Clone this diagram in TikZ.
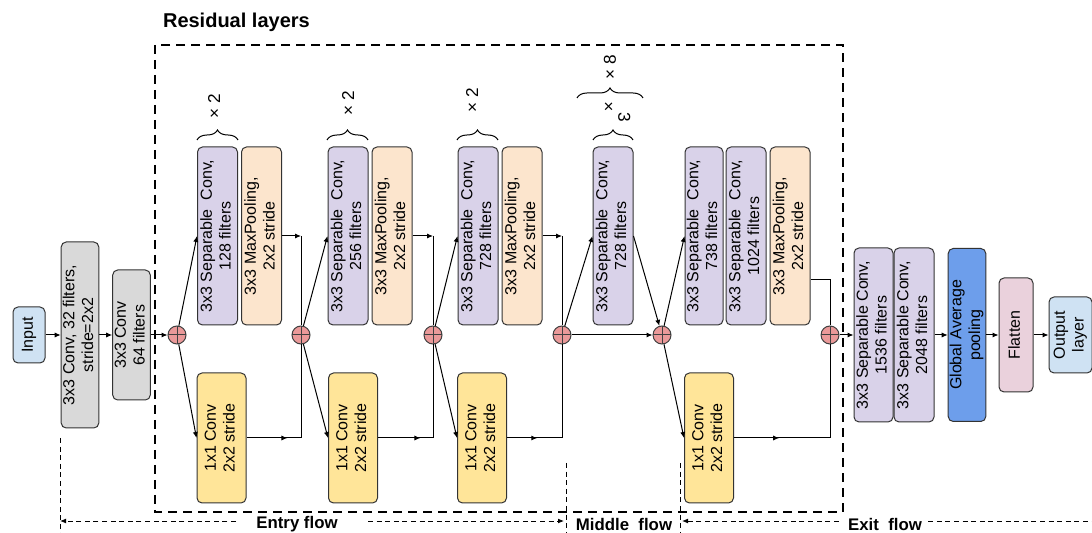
\documentclass[tikz,border=0pt]{standalone}
\usepackage{fontspec}
\setmainfont{Liberation Sans}
\usepackage{xcolor}
\usetikzlibrary{positioning,arrows.meta,calc,decorations.pathreplacing,decorations.markings}
\definecolor{inputblue}{HTML}{CFE2F3}
\definecolor{stemgray}{HTML}{D9D9D9}
\definecolor{sepviolet}{HTML}{D9D2E9}
\definecolor{poolpeach}{HTML}{FCE5CD}
\definecolor{skipyellow}{HTML}{FFE599}
\definecolor{addred}{HTML}{EA9999}
\definecolor{gapblue}{HTML}{6D9EEB}
\definecolor{flatpink}{HTML}{EAD1DC}

\newcommand{\vlabel}[1]{\rotatebox{90}{\begin{tabular}{@{}c@{}}#1\end{tabular}}}

\begin{document}
\begin{tikzpicture}[
  x=0.5pt, y=-0.5pt,
  font=\fontsize{8}{9.4}\selectfont,
  layer/.style={
    draw=black!80, rounded corners=2.5pt,
    inner sep=0pt, align=center,
    line width=0.5pt
  },
  sepconv/.style={layer, fill=sepviolet, minimum width=20pt, minimum height=89pt},
  maxpool/.style={layer, fill=poolpeach, minimum width=20pt, minimum height=89pt},
  shortcut/.style={layer, fill=skipyellow, minimum width=24.5pt, minimum height=65pt},
  addnode/.style={
    circle, draw=black!75, fill=addred, line width=0.5pt,
    minimum size=9pt, inner sep=0pt,
    path picture={\draw[line width=0.5pt]
      (path picture bounding box.north) -- (path picture bounding box.south)
      (path picture bounding box.west) -- (path picture bounding box.east);}
  },
  link/.style={line width=0.5pt},
  flow/.style={link, -{Latex[length=3pt,width=2.6pt]}},
  midflow/.style={link, postaction=decorate,
    decoration={markings, mark=at position #1 with {\arrow{Latex[length=3pt,width=2.6pt]}}}},
  rep/.style={decorate, decoration={brace, amplitude=5pt}, line width=0.5pt},
  replabel/.style={font=\fontsize{8.6}{10}\selectfont},
  resbox/.style={line width=1.2pt, dash pattern=on 4.5pt off 3pt},
  flowspan/.style={line width=0.4pt, dash pattern=on 2.5pt off 1.8pt},
  flowtip/.style={flowspan, -{Latex[length=3pt,width=2.4pt]}},
  flowlabel/.style={font=\fontsize{8.4}{9.5}\selectfont\bfseries, inner sep=0pt},
]
\useasboundingbox (0,0) rectangle (1092,533);

% Residual frame and its title
\draw[resbox] (155,45) rectangle (843,512);
\node[anchor=west, font=\fontsize{10}{12}\selectfont\bfseries] (restitle) at (156,22) {Residual layers};

% Stem before the residual part
\node[layer, fill=inputblue, minimum width=16pt, minimum height=28pt] (input) at (29,335) {\vlabel{Input}};
\node[layer, fill=stemgray, minimum width=16.5pt, minimum height=93pt] (conva) at (80,335)
  {\vlabel{3x3 Conv, 32 filters,\\stride=2x2}};
\node[layer, fill=stemgray, minimum width=15.5pt, minimum height=65pt] (convb) at (131.5,335)
  {\vlabel{3x3 Conv\\64 filters}};

% Sum nodes
\node[addnode] (add1) at (177,335) {};
\node[addnode] (add2) at (301,335) {};
\node[addnode] (add3) at (433,335) {};
\node[addnode] (add4) at (562,335) {};
\node[addnode] (add5) at (662,335) {};
\node[addnode] (add6) at (830,335) {};

% Entry flow blocks
\node[sepconv] (sep1) at (217.5,236) {\vlabel{3x3 Separable~ Conv,\\128 filters}};
\node[maxpool, right=1.5pt of sep1] (pool1) {\vlabel{3x3 MaxPooling,\\2x2 stride}};
\node[shortcut] (res1) at (221.5,438) {\vlabel{1x1 Conv\\2x2 stride}};

\node[sepconv] (sep2) at (348,236) {\vlabel{3x3 Separable~ Conv,\\256 filters}};
\node[maxpool, right=1.5pt of sep2] (pool2) {\vlabel{3x3 MaxPooling,\\2x2 stride}};
\node[shortcut] (res2) at (353,438) {\vlabel{1x1 Conv\\2x2 stride}};

\node[sepconv] (sep3) at (478,236) {\vlabel{3x3 Separable~ Conv,\\728 filters}};
\node[maxpool, right=1.5pt of sep3] (pool3) {\vlabel{3x3 MaxPooling,\\2x2 stride}};
\node[shortcut] (res3) at (482,438) {\vlabel{1x1 Conv\\2x2 stride}};

% Middle flow block
\node[sepconv] (sepm) at (613,236) {\vlabel{3x3 Separable~ Conv,\\728 filters}};

% Exit flow block
\node[sepconv, minimum width=19pt] (sepx1) at (704,236) {\vlabel{3x3 Separable~ Conv,\\738 filters}};
\node[sepconv, minimum width=20pt, right=1pt of sepx1] (sepx2) {\vlabel{3x3 Separable~ Conv,\\1024 filters}};
\node[maxpool, right=1.5pt of sepx2] (poolx) {\vlabel{3x3 MaxPooling,\\2x2 stride}};
\node[shortcut] (resx) at (709,438) {\vlabel{1x1 Conv\\2x2 stride}};

% Tail after the residual part
\node[sepconv, minimum width=19.5pt, minimum height=87pt] (tail1) at (873.5,335)
  {\vlabel{3x3 Separable Conv,\\1536 filters}};
\node[sepconv, minimum width=20pt, minimum height=87pt, right=0pt of tail1] (tail2)
  {\vlabel{3x3 Separable Conv,\\2048 filters}};
\node[layer, fill=gapblue, minimum width=17pt, minimum height=86.5pt] (gap) at (967,335)
  {\vlabel{Global Average\\pooling}};
\node[layer, fill=flatpink, minimum width=17pt, minimum height=57pt] (flat) at (1016,335)
  {\vlabel{Flatten}};
\node[layer, fill=inputblue, minimum width=21.5pt, minimum height=38pt] (output) at (1070.5,335)
  {\vlabel{Output\\layer}};

% Repeat braces
\draw[rep] (197,140) -- (238,140);
\node[replabel, rotate=90] (rep1) at (214,106) {×~2};
\draw[rep] (327,140) -- (368,140);
\node[replabel, rotate=90] (rep2) at (348,103) {×~2};
\draw[rep] (457,140) -- (498,140);
\node[replabel, rotate=90] (rep3) at (472,100) {×~2};
\draw[rep] (593,140) -- (633,140);
\node[replabel] (rep4) at (617,113) {×~\rotatebox{-90}{3}};
\draw[rep] (577,98) -- (643,98);
\node[replabel, rotate=90] (rep5) at (610,67) {×~8};

% Stem connections
\draw[flow] (input) -- (conva);
\draw[flow] (conva) -- (convb);
\draw[flow] (convb) -- (add1);

% Entry flow connections
\foreach \i/\j/\p in {1/2/0.75, 2/3/0.77, 3/4/0.55} {
  \draw[flow] (add\i) -- (sep\i.west);
  \draw[flow] (add\i) -- (res\i.west);
  \draw[flow] (pool\i.east) -- (pool\i.east -| add\j);
  \draw[link] (pool\i.east -| add\j) -- (add\j);
  \draw[midflow=\p] (res\i.east) -- (res\i.east -| add\j);
  \draw[link] (res\i.east -| add\j) -- (add\j);
}

% Middle flow connections
\draw[flow] (add4) -- (sepm.west);
\draw[flow] (add4) -- (add5);
\draw[flow] (sepm.east) -- (add5);

% Exit flow connections
\draw[flow] (add5) -- (sepx1.west);
\draw[flow] (add5) -- (resx.west);
\draw[link] ([yshift=-22pt]poolx.east) -| (add6);
\draw[midflow=0.47] (resx.east) -- (resx.east -| add6);
\draw[link] (resx.east -| add6) -- (add6);
\draw[flow] (add6) -- (tail1);
\draw[flow] (tail2) -- (gap);
\draw[flow] (gap) -- (flat);
\draw[flow] (flat) -- (output);

% Flow spans along the bottom
\coordinate (entrytop) at (60,438);
\coordinate (entrybot) at (60,533);
\coordinate (midtopa) at (566,463);
\coordinate (midbota) at (566,533);
\coordinate (midtopb) at (680,463);
\coordinate (midbotb) at (680,533);
\coordinate (entryend) at (60,521);
\coordinate (entrystop) at (564,521);
\coordinate (exitstop) at (682,521);
\coordinate (exitend) at (1092,521);
\draw[flowspan] (entrytop) -- (entrybot);
\draw[flowspan] (midtopa) -- (midbota);
\draw[flowspan] (midtopb) -- (midbotb);

\node[flowlabel] (entrylbl) at (297,524) {Entry flow};
\node[flowlabel] (midlbl) at (624,524) {Middle~ flow};
\node[flowlabel] (exitlbl) at (885,524) {Exit~ flow};
\draw[flowtip] ([xshift=-10pt]entrylbl.west |- entryend) -- (entryend);
\draw[flowtip] ([xshift=15pt]entrylbl.east |- entryend) -- (entrystop);
\draw[flowtip] ([xshift=-4.5pt]exitlbl.west |- exitstop) -- (exitstop);
\draw[flowspan] ([xshift=3pt]exitlbl.east |- exitend) -- (exitend);

\end{tikzpicture}
\end{document}
